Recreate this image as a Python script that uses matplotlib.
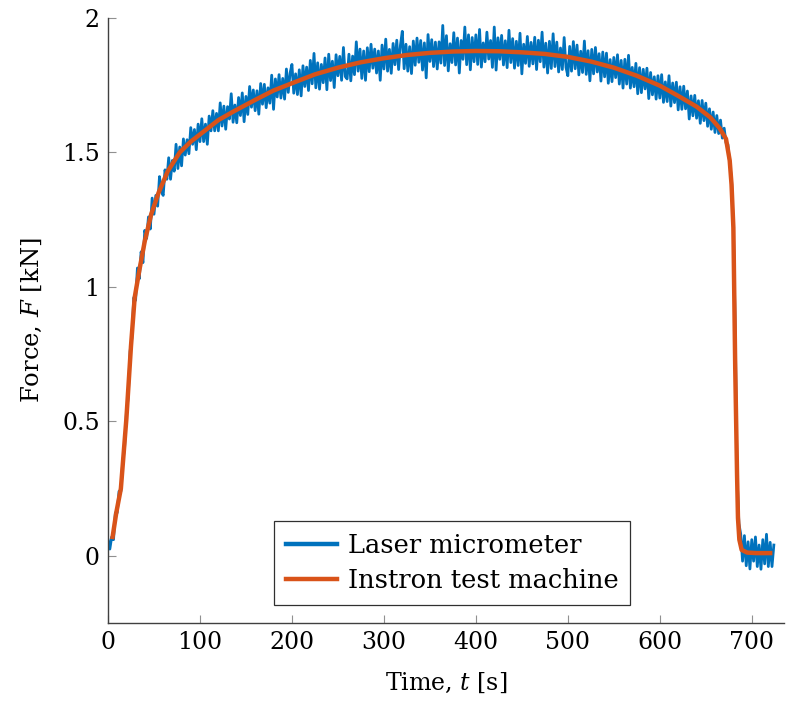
import numpy as np
import matplotlib
matplotlib.use("Agg")
import matplotlib.pyplot as plt

plt.rcParams['font.family'] = ['DejaVu Serif']
plt.rcParams['mathtext.fontset'] = 'dejavuserif'

# Instron load cell record (smooth)
instron_t = [5, 9, 14, 20, 25, 29, 34, 40, 47, 55, 65, 78, 90, 105, 120, 138,
             160, 180, 200, 225, 250, 275, 300, 325, 350, 375, 400, 425, 450,
             475, 500, 525, 550, 575, 600, 620, 640, 655, 665, 672, 676, 678,
             680, 682, 684, 685, 686.5, 689, 695, 705, 720]
instron_F = [0.07, 0.16, 0.25, 0.51, 0.78, 0.96, 1.06, 1.17, 1.27, 1.35, 1.43,
             1.50, 1.54, 1.58, 1.62, 1.655, 1.695, 1.73, 1.757, 1.79, 1.815,
             1.835, 1.85, 1.862, 1.87, 1.875, 1.877, 1.876, 1.872, 1.866,
             1.855, 1.838, 1.815, 1.785, 1.748, 1.71, 1.67, 1.63, 1.59, 1.55,
             1.47, 1.38, 1.22, 0.70, 0.30, 0.14, 0.06, 0.022, 0.012, 0.01,
             0.01]

# laser micrometer force, one sample every 2 s (one row = 20 s)
laser_dt = 2
laser_F = [
    0.06, 0.025, 0.07, 0.06, 0.16, 0.16, 0.24, 0.24, 0.35, 0.40,
    0.53, 0.59, 0.76, 0.81, 0.96, 0.95, 1.07, 1.03, 1.13, 1.09,
    1.21, 1.18, 1.26, 1.215, 1.33, 1.27, 1.34, 1.30, 1.41, 1.355,
    1.34, 1.435, 1.40, 1.48, 1.40, 1.47, 1.43, 1.53, 1.44, 1.52,
    1.45, 1.55, 1.49, 1.547, 1.495, 1.592, 1.53, 1.585, 1.51, 1.605,
    1.54, 1.625, 1.54, 1.605, 1.53, 1.635, 1.58, 1.655, 1.58, 1.645,
    1.58, 1.684, 1.598, 1.672, 1.586, 1.67, 1.624, 1.718, 1.612, 1.676,
    1.61, 1.704, 1.637, 1.721, 1.614, 1.708, 1.641, 1.745, 1.668, 1.732,
    1.655, 1.729, 1.642, 1.756, 1.679, 1.753, 1.666, 1.74, 1.683, 1.787,
    1.66, 1.773, 1.706, 1.789, 1.702, 1.775, 1.698, 1.81, 1.723, 1.795,
    1.827, 1.72, 1.792, 1.715, 1.807, 1.71, 1.822, 1.745, 1.817, 1.73,
    1.842, 1.755, 1.868, 1.74, 1.833, 1.735, 1.827, 1.759, 1.851, 1.733,
    1.865, 1.767, 1.839, 1.741, 1.863, 1.785, 1.857, 1.768, 1.89, 1.782,
    1.773, 1.865, 1.766, 1.858, 1.789, 1.911, 1.802, 1.884, 1.775, 1.877,
    1.768, 1.889, 1.80, 1.902, 1.813, 1.884, 1.795, 1.877, 1.768, 1.899,
    1.81, 1.921, 1.802, 1.883, 1.794, 1.905, 1.826, 1.917, 1.808, 1.899,
    1.95, 1.811, 1.902, 1.802, 1.893, 1.793, 1.914, 1.824, 1.925, 1.835,
    1.916, 1.806, 1.907, 1.777, 1.938, 1.838, 1.919, 1.819, 1.91, 1.81,
    1.911, 1.832, 1.972, 1.823, 1.934, 1.803, 1.904, 1.834, 1.945, 1.825,
    1.925, 1.795, 1.916, 1.846, 1.966, 1.826, 1.937, 1.807, 1.927, 1.837,
    1.937, 1.827, 1.957, 1.817, 1.907, 1.837, 1.947, 1.847, 1.916, 1.816,
    1.966, 1.806, 1.926, 1.846, 1.935, 1.825, 1.915, 1.815, 1.954, 1.834,
    1.923, 1.813, 1.913, 1.823, 1.943, 1.792, 1.902, 1.831, 1.931, 1.82,
    1.909, 1.829, 1.928, 1.808, 1.917, 1.837, 1.947, 1.817, 1.906, 1.795,
    1.913, 1.812, 1.941, 1.819, 1.91, 1.799, 1.888, 1.808, 1.927, 1.816,
    1.785, 1.894, 1.802, 1.912, 1.811, 1.899, 1.788, 1.876, 1.797, 1.914,
    1.79, 1.878, 1.766, 1.883, 1.792, 1.89, 1.799, 1.867, 1.765, 1.873,
    1.781, 1.869, 1.757, 1.845, 1.763, 1.853, 1.778, 1.863, 1.754, 1.842,
    1.739, 1.846, 1.754, 1.861, 1.739, 1.816, 1.744, 1.831, 1.718, 1.815,
    1.722, 1.809, 1.736, 1.813, 1.70, 1.797, 1.714, 1.781, 1.698, 1.785,
    1.702, 1.789, 1.686, 1.762, 1.689, 1.785, 1.672, 1.758, 1.685, 1.761,
    1.658, 1.744, 1.66, 1.746, 1.662, 1.728, 1.624, 1.71, 1.636, 1.712,
    1.627, 1.692, 1.608, 1.693, 1.618, 1.683, 1.597, 1.662, 1.586, 1.65,
    1.574, 1.637, 1.57, 1.62, 1.553, 1.59, 1.535, 1.53, 1.46, 1.40,
    1.22, 0.85, 0.30, 0.12, 0.08, -0.02, 0.075, -0.037, 0.052, -0.049,
    0.06, -0.02, 0.07, -0.04, 0.04, -0.05, 0.06, -0.03, 0.08, -0.04,
    0.05, -0.04, 0.04,
]
laser_t = np.arange(len(laser_F)) * laser_dt

xticks = [0, 100, 200, 300, 400, 500, 600, 700]
yticks = [0, 0.5, 1, 1.5, 2]
ytick_labels = ['0', '0.5', '1', '1.5', '2']

blue = '#0072BD'
orange = '#D95319'

fig = plt.figure(figsize=(7.86, 7.02), dpi=100)
ax = fig.add_axes([0.1374, 0.1125, 0.86, 0.862])

ax.plot(laser_t, laser_F, color=blue, lw=2.0, label='Laser micrometer')
ax.plot(instron_t, instron_F, color=orange, lw=3.2, label='Instron test machine')

ax.set_xlim(0, 735)
ax.set_ylim(-0.25, 2)
ax.set_xticks(xticks)
ax.set_yticks(yticks)
ax.set_yticklabels(ytick_labels)

for s in ['top', 'right']:
    ax.spines[s].set_visible(False)
for s in ['left', 'bottom']:
    ax.spines[s].set_color('#404040')
    ax.spines[s].set_linewidth(1.0)
ax.tick_params(direction='in', length=6, width=0.8, color='#909090',
               labelsize=17, pad=6)

ax.set_xlabel('Time, $t$ [s]', fontsize=17, labelpad=12)
ax.set_ylabel('Force, $F$ [kN]', fontsize=17.5, labelpad=13)

leg = ax.legend(loc='lower center', bbox_to_anchor=(0.509, 0.03), fontsize=18.5,
                fancybox=False, framealpha=1, edgecolor='#303030',
                handlelength=2.0, handletextpad=0.4, borderpad=0.45,
                labelspacing=0.4, borderaxespad=0)
leg.get_frame().set_linewidth(0.9)
for ln in leg.get_lines():
    ln.set_linewidth(3.2)

fig.savefig('out.png', dpi=100)
